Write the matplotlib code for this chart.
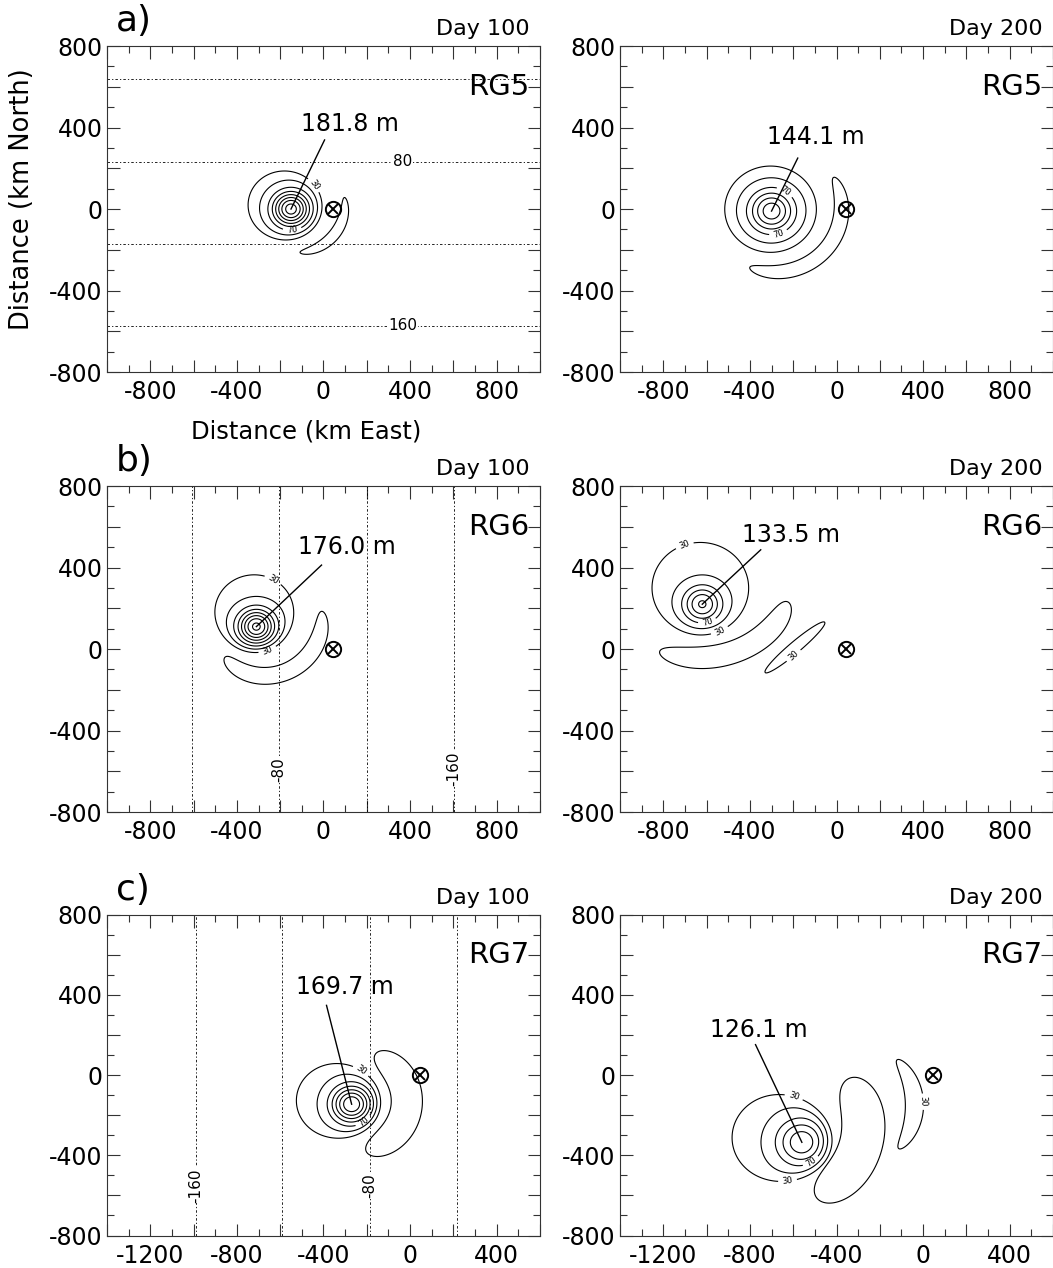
import numpy as np
import matplotlib
matplotlib.use("Agg")
import matplotlib.pyplot as plt
from matplotlib.ticker import MultipleLocator, FuncFormatter

plt.rcParams['font.family'] = ['DejaVu Sans']
plt.rcParams['axes.unicode_minus'] = False

# panel order: a-left, a-right, b-left, b-right, c-left, c-right
panel_letters = ["a)", "", "b)", "", "c)", ""]
day_labels = ["Day 100", "Day 200", "Day 100", "Day 200", "Day 100", "Day 200"]
run_names = ["RG5", "RG5", "RG6", "RG6", "RG7", "RG7"]
x_min = [-1000, -1000, -1000, -1000, -1400, -1400]
x_max = [1000, 1000, 1000, 1000, 600, 600]

# eddy maximum (m) and where it sits (km)
peak_values = [181.8, 144.1, 176.0, 133.5, 169.7, 126.1]
peak_x = [-150, -300, -310, -620, -270, -560]
peak_y = [0, -10, 110, 220, -145, -335]
core_sigma = [58, 70, 58, 60, 63, 80]
# flat outer part of the eddy (sets the 30 m ring)
skirt_x = [-182, -305, -320, -629, -341, -668]
skirt_y = [20, 0, 183, 300, -127, -312]
skirt_size = [170, 215, 186, 229, 189, 220]
skirt_amp = 45

# crescents: centre x, centre y, radius, radius change per rad, half width,
# mid angle, half span (deg), radial shape, end shape
arcs = [
    [(-150, 0, 235, 22, 26, -33, 46, 2, 2)],
    [(-300, -10, 312, 15, 36, -40, 70, 2, 4)],
    [(-310, 110, 259, 39, 42, -60, 74, 2, 4)],
    [(-557, 439, 455, -80, 56, -76, 44, 2, 4)],
    [(-270, -130, 255, 0, 72, -5, 70, 2, 4)],
    [(-668, -252, 392, 0, 100, -14, 50, 2, 4),
     (-400, -150, 360, 0, 42, 1, 38, 2, 2)],
]
# straight thin crescents: x, y, half length, half width, angle
streaks = [[], [], [], [(-192, 8, 185, 27, 42)], [], []]
crescent_amp = 40

contour_levels = [30, 50, 70, 90, 110, 130, 150, 170]
labelled_levels = [30, 70]
clabel_pos = [
    [(-42, 118), (-143, -113)],
    [(-211, 118), (-267, -123)],
    [(-240, 329), (-263, 5)],
    [(-698, 500), (-592, 118), (-536, 83), (-151, -79)],
    [(-225, 24), (-202, -245)],
    [(-597, -108), (-509, -442), (-625, -535), (-17, -133)],
]

# text with value of the maximum and the leader line start (km)
label_x = [120, -95, 106, -211, -303, -760]
label_y = [417, 353, 501, 559, 442, 226]
leader_x = [5, -179, -9, -350, -386, -774]
leader_y = [339, 250, 412, 487, 348, 152]

mooring_x = 45
mooring_y = 0

# background contours (dashed)
bg_orient = ["h", "", "v", "", "v", ""]
bg_pos = [[637, 233, -170, -574], [], [-608, -207, 203, 604], [],
          [-990, -590, -184, 217], []]
bg_text = [["", "80", "", "160"], [], ["", "-80", "", "-160"], [],
           ["-160", "", "-80", ""], []]
bg_text_at = [365, 0, -590, 0, -550, 0]

q = 2 * np.log(crescent_amp / 30)


def gauss(X, Y, x0, y0, amp, s):
    return amp * np.exp(-0.5 * ((X - x0) ** 2 + (Y - y0) ** 2) / s ** 2)


def skirt(X, Y, x0, y0, S):
    d = np.hypot(X - x0, Y - y0)
    return skirt_amp * np.exp(-0.5 * (d / S) ** 8)


def arc(X, Y, cx, cy, R0, k, hw, th0, hs, pr, pa):
    w = hw / q ** (1 / pr)
    dth = np.deg2rad(hs) / q ** (1 / pa)
    r = np.hypot(X - cx, Y - cy)
    th = np.arctan2(Y - cy, X - cx)
    d = (th - np.deg2rad(th0) + np.pi) % (2 * np.pi) - np.pi
    R = R0 + k * d
    return crescent_amp * np.exp(-0.5 * (np.abs(r - R) / w) ** pr
                                 - 0.5 * np.abs(d / dth) ** pa)


def streak(X, Y, x0, y0, hl, hw, ang):
    a = np.deg2rad(ang)
    u = (X - x0) * np.cos(a) + (Y - y0) * np.sin(a)
    v = -(X - x0) * np.sin(a) + (Y - y0) * np.cos(a)
    s = q ** 0.5
    return crescent_amp * np.exp(-0.5 * ((u * s / hl) ** 2 + (v * s / hw) ** 2))


gx = np.arange(-1500, 1101, 4.0)
gy = np.arange(-900, 901, 4.0)
X, Y = np.meshgrid(gx, gy)

fig = plt.figure(figsize=(10.53, 12.68), dpi=100)
lefts = [0.1016, 0.5888]
bottoms = [0.7066, 0.3596, 0.0256]
heights = [0.2571, 0.2571, 0.2530]

for i in range(6):
    row, col = i // 2, i % 2
    ax = fig.add_axes([lefts[col], bottoms[row], 0.4112, heights[row]])

    # eddy = flat skirt + gaussian core, scaled so its top equals the printed maximum
    sk_peak = float(skirt(np.array(peak_x[i]), np.array(peak_y[i]),
                          skirt_x[i], skirt_y[i], skirt_size[i]))
    eddy = skirt(X, Y, skirt_x[i], skirt_y[i], skirt_size[i]) + \
        gauss(X, Y, peak_x[i], peak_y[i], peak_values[i] - sk_peak, core_sigma[i])
    parts = [eddy] + [arc(X, Y, *p) for p in arcs[i]] + [streak(X, Y, *p) for p in streaks[i]]
    Z = np.maximum.reduce(parts)

    plain = [lv for lv in contour_levels if lv not in labelled_levels]
    ax.contour(X, Y, Z, levels=plain, colors='k', linewidths=0.8)
    cs = ax.contour(X, Y, Z, levels=labelled_levels, colors='k', linewidths=0.8)
    ax.clabel(cs, manual=clabel_pos[i], fmt='%d', fontsize=6,
              inline=True, inline_spacing=2)

    # background dashed lines
    for p, t in zip(bg_pos[i], bg_text[i]):
        if bg_orient[i] == "h":
            ax.axhline(p, color='k', lw=0.6, ls=(0, (3, 2.5, 1.5, 2.5)))
            if t:
                ax.text(bg_text_at[i], p, t, fontsize=11, ha='center', va='center',
                        bbox=dict(fc='white', ec='none', pad=0.5))
        else:
            ax.axvline(p, color='k', lw=0.6, ls=(0, (3, 2.5, 1.5, 2.5)))
            if t:
                ax.text(p, bg_text_at[i], t, fontsize=11, ha='center', va='center',
                        rotation=90, bbox=dict(fc='white', ec='none', pad=0.5))

    # leader line and value of the maximum
    ax.plot([leader_x[i], peak_x[i]], [leader_y[i], peak_y[i]], color='k', lw=1.0)
    ax.text(label_x[i], label_y[i], f"{peak_values[i]:.1f} m", fontsize=17,
            ha='center', va='center')

    # mooring symbol
    ax.plot(mooring_x, mooring_y, marker='o', ms=11, mfc='none', mec='k', mew=1.4)
    ax.plot(mooring_x, mooring_y, marker='x', ms=7, mec='k', mew=1.4)

    ax.set_xlim(x_min[i], x_max[i])
    ax.set_ylim(-800, 800)
    ax.xaxis.set_major_locator(MultipleLocator(200))
    ax.xaxis.set_minor_locator(MultipleLocator(100))
    ax.yaxis.set_major_locator(MultipleLocator(200))
    ax.yaxis.set_minor_locator(MultipleLocator(100))
    fmt = FuncFormatter(lambda v, _: f"{int(round(v))}" if round(v) % 400 == 0 else "")
    ax.xaxis.set_major_formatter(fmt)
    ax.yaxis.set_major_formatter(fmt)
    ax.tick_params(which='both', direction='in', top=True, right=True,
                   color='#333333', width=0.8, labelsize=17)
    ax.tick_params(which='major', length=9)
    ax.tick_params(axis='x', which='major', pad=6)
    ax.tick_params(axis='y', which='major', pad=3)
    ax.tick_params(which='minor', length=5)
    for s in ax.spines.values():
        s.set_linewidth(0.8)
        s.set_color('#333333')

    ax.text(0.975, 0.875, run_names[i], transform=ax.transAxes, fontsize=21,
            ha='right', va='center')
    ax.text(0.975, 1.035, day_labels[i], transform=ax.transAxes, fontsize=16,
            ha='right', va='baseline')
    if panel_letters[i]:
        ax.text(0.02, 1.045, panel_letters[i], transform=ax.transAxes, fontsize=26,
                ha='left', va='baseline')

    if i == 0:
        ax.set_ylabel("Distance (km North)", fontsize=18.5)
        ax.set_xlabel("Distance (km East)", fontsize=17.5)
        ax.yaxis.set_label_coords(-0.166, 0.53)
        ax.xaxis.set_label_coords(0.46, -0.147)

fig.savefig("out.png", dpi=100)
